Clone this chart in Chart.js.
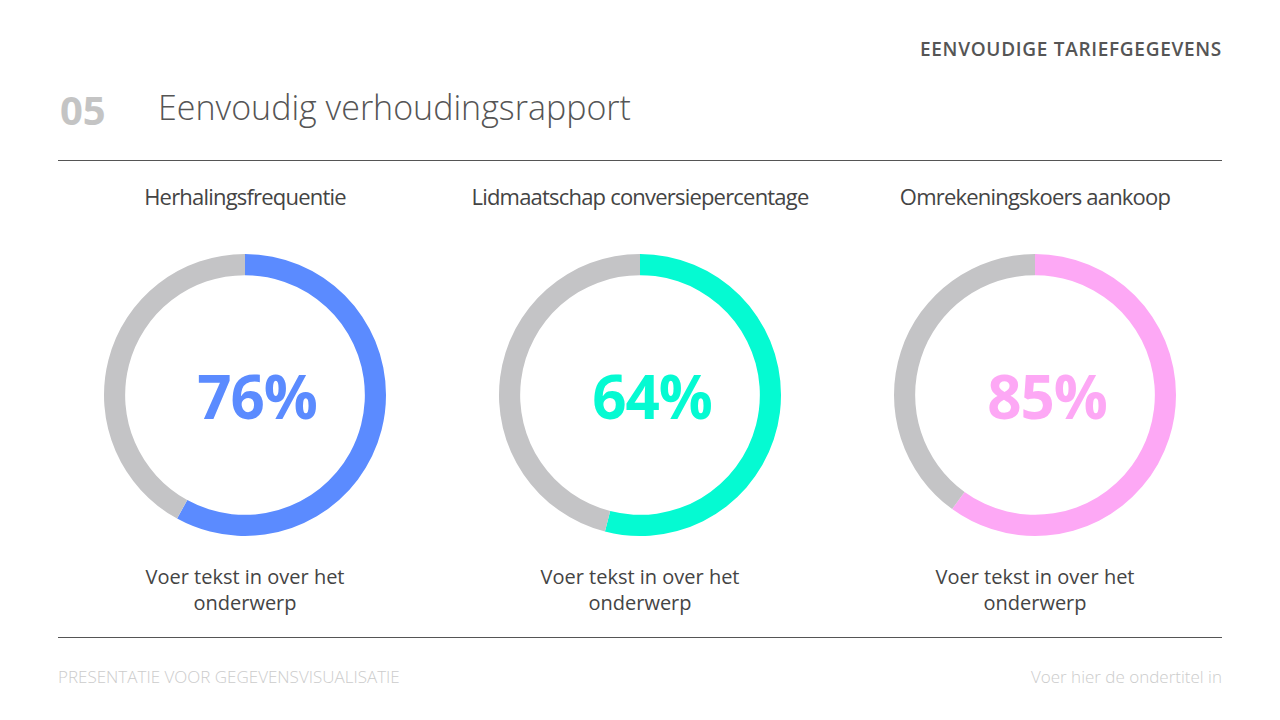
<!DOCTYPE html>
<html><head><meta charset="utf-8">
<script src="https://cdn.jsdelivr.net/npm/chart.js@4/dist/chart.umd.min.js"></script>
<style>
body{margin:0;width:1280px;height:720px;background:#fff;font-family:"Open Sans","Noto Sans",sans-serif;position:relative;overflow:hidden}
.abs{position:absolute}
.line{position:absolute;left:58px;width:1164px;height:1px;background:#555}
.ttl{position:absolute;width:400px;text-align:center;font-size:22px;color:#444;letter-spacing:-0.8px;top:181px;font-weight:500}
.sub{position:absolute;width:400px;text-align:center;font-size:20px;color:#444;line-height:26px;top:564px}
.pct{position:absolute;width:300px;text-align:center;font-size:60px;font-weight:bold;top:355px;letter-spacing:-1px}
.box{position:absolute;top:245px;width:290px;height:290px}
</style></head><body>
<div class="abs" style="right:58px;top:36px;font-size:19px;font-weight:600;color:#555;letter-spacing:0.7px">EENVOUDIGE TARIEFGEGEVENS</div>
<div class="abs" style="left:60px;top:82px;font-size:40px;font-weight:bold;color:#c4c4c4">05</div>
<div class="abs" style="left:158px;top:84px;font-size:34px;color:#555;font-weight:300">Eenvoudig verhoudingsrapport</div>
<div class="line" style="top:160px"></div>
<div class="line" style="top:637px"></div>
<div class="abs" style="left:58px;top:665px;font-size:17px;color:#ccc;font-weight:300">PRESENTATIE VOOR GEGEVENSVISUALISATIE</div>
<div class="abs" style="right:58px;top:665px;font-size:17px;color:#ccc;font-weight:300">Voer hier de ondertitel in</div>
<div id="wrap"></div>
<script>
const titles = ['Herhalingsfrequentie', 'Lidmaatschap conversiepercentage', 'Omrekeningskoers aankoop'];
const labels = ['76%', '64%', '85%'];
const arcValues = [58, 54, 60];
const colors = ['#5b8bff', '#05fad2', '#fda8f5'];
const centers = [245, 640, 1035];
const wrap = document.getElementById('wrap');
centers.forEach(function(cx, i){
    wrap.insertAdjacentHTML('beforeend',
        '<div class="ttl" style="left:' + (cx - 200) + 'px">' + titles[i] + '</div>' +
        '<div class="box" style="left:' + (cx - 150) + 'px"><canvas id="c' + i + '"></canvas></div>' +
        '<div class="pct" style="left:' + (cx - 138) + 'px;color:' + colors[i] + '">' + labels[i] + '</div>' +
        '<div class="sub" style="left:' + (cx - 200) + 'px">Voer tekst in over het<br>onderwerp</div>');
    new Chart(document.getElementById('c' + i).getContext('2d'), {
        type: 'doughnut',
        data: {
            datasets: [{
                data: [arcValues[i], 100 - arcValues[i]],
                backgroundColor: [colors[i], '#c4c4c6'],
                borderWidth: 0
            }]
        },
        options: {
            responsive: false, animation: false,
            cutout: '85%', radius: 141,
            plugins: {legend: {display: false}, tooltip: {enabled: false}}
        }
    });
});
</script>
</body></html>
